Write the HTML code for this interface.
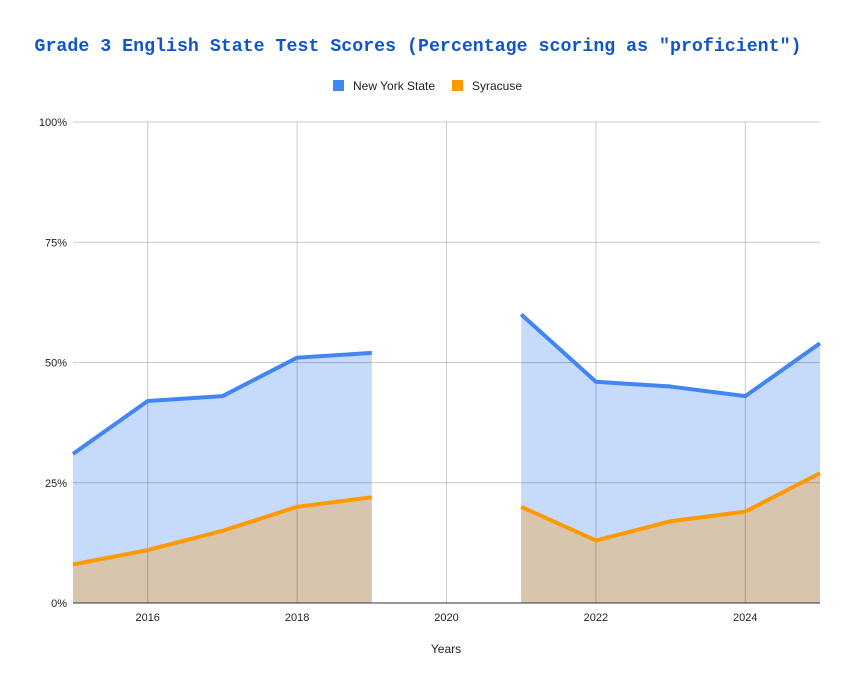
<!DOCTYPE html>
<html><head><meta charset="utf-8"><style>
body{margin:0;background:#fff;}
svg text{font-family:"Liberation Sans",sans-serif;}
</style></head><body>
<svg width="855" height="691" xmlns="http://www.w3.org/2000/svg">
<rect width="855" height="691" fill="#fff"/>
<text x="418" y="51" text-anchor="middle" style="font-family:'Liberation Mono',monospace;font-weight:bold;font-size:18px" fill="#1155cc" textLength="767" lengthAdjust="spacingAndGlyphs">Grade 3 English State Test Scores (Percentage scoring as "proficient")</text>
<g>
<rect x="333" y="80" width="11" height="11" fill="#4285f4"/>
<text x="353" y="90" font-size="12" fill="#222">New York State</text>
<rect x="452" y="80" width="11" height="11" fill="#ff9900"/>
<text x="472" y="90" font-size="12" fill="#222">Syracuse</text>
</g>
<g id="areas"></g>
<g id="grid"></g>
<g id="lines"></g>
<g id="axes"></g>
<text x="446" y="653" text-anchor="middle" font-size="12" fill="#222">Years</text>
</svg>
<script>
const years=[2015,2016,2017,2018,2019,2020,2021,2022,2023,2024,2025];
const nys=[31,42,43,51,52,null,60,46,45,43,54];
const syr=[8,11,15,20,22,null,20,13,17,19,27];
const yTicks=[0,25,50,75,100];
const xTicks=[2016,2018,2020,2022,2024];
const NS="http://www.w3.org/2000/svg";
const x0=73,x1=820,y0=603,y1=122;
const X=v=>x0+(v-2015)/(2025-2015)*(x1-x0);
const Y=v=>y0-v/100*(y0-y1);
function mk(t,a,p){const e=document.createElementNS(NS,t);for(const k in a)e.setAttribute(k,a[k]);document.getElementById(p).appendChild(e);return e;}
xTicks.forEach(t=>{
 const l=mk('line',{x1:X(t),x2:X(t),y1:y1,y2:y0,stroke:'rgba(0,0,0,0.2)','stroke-width':1},'grid');
 
 
 const tx=mk('text',{x:X(t),y:y0+18,'text-anchor':'middle','font-size':11,fill:'#222'},'axes');
 tx.textContent=t;
 
 
});
yTicks.forEach(t=>{
 const l=mk('line',{x1:x0,x2:x1,y1:Y(t),y2:Y(t),stroke:t===0?'#333':'rgba(0,0,0,0.2)','stroke-width':1},'grid');
 
 
 const tx=mk('text',{x:x0-6,y:Y(t)+4,'text-anchor':'end','font-size':11,fill:'#222'},'axes');
 tx.textContent=t+'%';
 
 
});
function segs(arr){const s=[];let c=[];arr.forEach((v,i)=>{if(v===null){if(c.length)s.push(c);c=[];}else c.push([X(years[i]),Y(v)]);});if(c.length)s.push(c);return s;}
function draw(arr,fill,stroke,name){
 segs(arr).forEach(s=>{
  const d='M'+s[0][0]+','+y0+' '+s.map(p=>'L'+p[0]+','+p[1]).join(' ')+' L'+s[s.length-1][0]+','+y0+'Z';
  const a=mk('path',{d:d,fill:fill},'areas');
  
  
  const l=mk('path',{d:'M'+s.map(p=>p.join(',')).join(' L'),fill:'none',stroke:stroke,'stroke-width':4,'stroke-linejoin':'round'},'lines');
  
  
 });
}
draw(nys,'#c6dafc','#4285f4','nys');
draw(syr,'#d7c5ad','#ff9900','syracuse');
</script>
</body></html>
